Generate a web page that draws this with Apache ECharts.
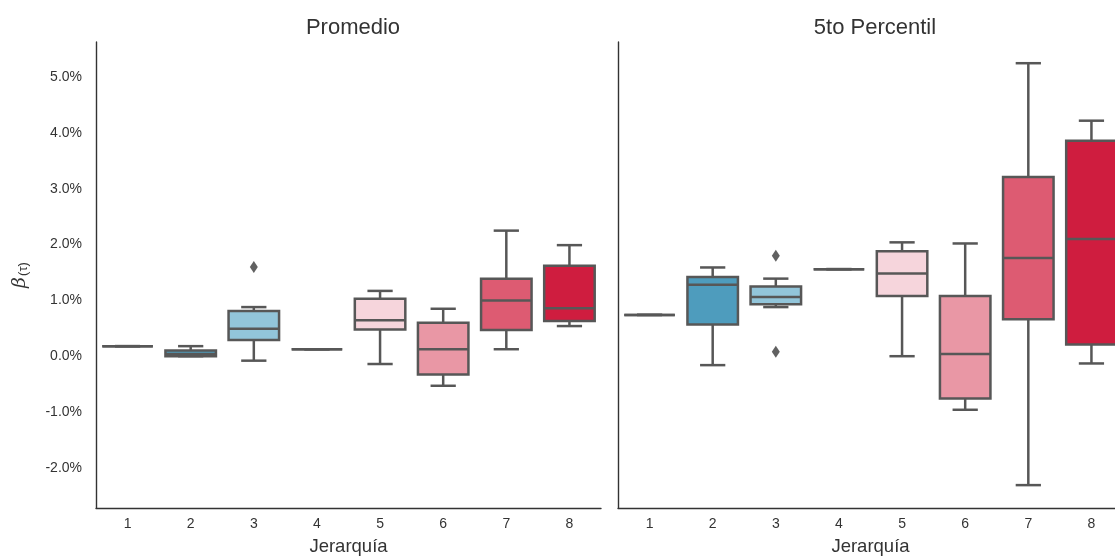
<!DOCTYPE html>
<html>
<head>
<meta charset="utf-8">
<script src="https://cdn.jsdelivr.net/npm/echarts@6/dist/echarts.min.js"></script>
<style>
html, body { margin: 0; padding: 0; background: #fff; }
#chart { width: 1115px; height: 556px; }
</style>
</head>
<body>
<div id="chart"></div>
<script>
var categorias = ['1', '2', '3', '4', '5', '6', '7', '8'];
// [min, q1, mediana, q3, max] en %
var promedio = [
    [0.18, 0.18, 0.18, 0.18, 0.18],
    [0.00, 0.00, 0.04, 0.10, 0.18],
    [-0.08, 0.29, 0.49, 0.81, 0.88],
    [0.125, 0.125, 0.125, 0.125, 0.125],
    [-0.14, 0.48, 0.645, 1.03, 1.17],
    [-0.53, -0.33, 0.125, 0.60, 0.85],
    [0.125, 0.47, 1.00, 1.39, 2.25],
    [0.54, 0.63, 0.86, 1.62, 1.99]
];
var percentil5 = [
    [0.74, 0.74, 0.74, 0.74, 0.74],
    [-0.16, 0.57, 1.28, 1.42, 1.59],
    [0.88, 0.93, 1.06, 1.25, 1.39],
    [1.56, 1.56, 1.56, 1.56, 1.56],
    [0.00, 1.08, 1.48, 1.88, 2.04],
    [-0.96, -0.76, 0.04, 1.08, 2.02],
    [-2.31, 0.66, 1.76, 3.21, 5.25],
    [-0.13, 0.21, 2.10, 3.86, 4.22]
];
// [categoria, valor]
var promedioAtipicos = [[2, 1.60]];
var percentil5Atipicos = [[2, 1.80], [2, 0.08]];
var yTicks = [-2, -1, 0, 1, 2, 3, 4, 5];

var colores = ['#2f6f93', '#4e9cbd', '#92c5da', '#eef1f3', '#f6d5dc', '#e997a5', '#dd5b72', '#cf1d3f'];
var gris = '#575757';

function filas(datos) {
    return datos.map(function (d, i) {
        return [i, d[0], d[1], d[2], d[3], d[4]];
    });
}

function cajas(params, api) {
    var i = api.value(0);
    var banda = api.size([1, 0])[0];
    var w = banda * 0.8;
    var cap = w / 2;
    var x = api.coord([i, 0])[0];
    var yMin = api.coord([i, api.value(1)])[1];
    var yQ1 = api.coord([i, api.value(2)])[1];
    var yMed = api.coord([i, api.value(3)])[1];
    var yQ3 = api.coord([i, api.value(4)])[1];
    var yMax = api.coord([i, api.value(5)])[1];
    var linea = { stroke: gris, lineWidth: 2.5, fill: null };
    return {
        type: 'group',
        children: [
            { type: 'line', shape: { x1: x, y1: yQ3, x2: x, y2: yMax }, style: linea },
            { type: 'line', shape: { x1: x, y1: yQ1, x2: x, y2: yMin }, style: linea },
            { type: 'line', shape: { x1: x - cap / 2, y1: yMax, x2: x + cap / 2, y2: yMax }, style: linea },
            { type: 'line', shape: { x1: x - cap / 2, y1: yMin, x2: x + cap / 2, y2: yMin }, style: linea },
            { type: 'rect', shape: { x: x - w / 2, y: yQ3, width: w, height: yQ1 - yQ3 },
              style: { fill: colores[i], stroke: gris, lineWidth: 2.5 } },
            { type: 'line', shape: { x1: x - w / 2, y1: yMed, x2: x + w / 2, y2: yMed }, style: linea }
        ]
    };
}

var lineaEje = { show: true, onZero: false, lineStyle: { color: '#333', width: 1.4 } };

function ejeX(idx) {
    return {
        type: 'category', gridIndex: idx, data: categorias,
        axisLine: lineaEje, axisTick: { show: false },
        axisLabel: { color: '#333', fontSize: 14, fontFamily: 'Liberation Sans', margin: 9 },
        splitLine: { show: false },
        name: 'Jerarquía', nameLocation: 'middle', nameGap: 29,
        nameTextStyle: { color: '#333', fontSize: 18.5, fontFamily: 'Liberation Sans' }
    };
}

var chart = echarts.init(document.getElementById('chart'));
var option = {
    animation: false,
    title: [
        { text: 'Promedio', left: 348, top: 12, textAlign: 'center',
          textStyle: { color: '#333', fontSize: 22, fontWeight: 'normal', fontFamily: 'Liberation Sans' } },
        { text: '5to Percentil', left: 870, top: 12, textAlign: 'center',
          textStyle: { color: '#333', fontSize: 22, fontWeight: 'normal', fontFamily: 'Liberation Sans' } }
    ],
    grid: [
        { left: 96, top: 42, width: 505, height: 466, outerBoundsMode: 'none', containLabel: false },
        { left: 618, top: 42, width: 505, height: 466, outerBoundsMode: 'none', containLabel: false }
    ],
    xAxis: [ejeX(0), ejeX(1)],
    yAxis: [
        {
            type: 'value', gridIndex: 0, min: -2.72, max: 5.63,
            axisLine: lineaEje, axisTick: { show: false }, splitLine: { show: false },
            axisLabel: {
                customValues: yTicks, color: '#333', fontSize: 14, fontFamily: 'Liberation Sans', margin: 14,
                formatter: function (v) { return v.toFixed(1) + '%'; }
            },
            name: '{b|β}{s|(τ)}', nameLocation: 'middle', nameRotate: 90, nameGap: 66,
            nameTextStyle: {
                rich: {
                    b: { fontSize: 19, fontStyle: 'italic', color: '#333', fontFamily: 'DejaVu Serif' },
                    s: { fontSize: 13, color: '#333', fontFamily: 'Liberation Sans', padding: [7, 0, 0, 1] }
                }
            }
        },
        {
            type: 'value', gridIndex: 1, min: -2.72, max: 5.63,
            axisLine: lineaEje, axisTick: { show: false }, splitLine: { show: false },
            axisLabel: { show: false }
        }
    ],
    series: [
        { type: 'custom', xAxisIndex: 0, yAxisIndex: 0, renderItem: cajas,
          encode: { x: 0, y: [1, 2, 3, 4, 5] }, data: filas(promedio) },
        { type: 'custom', xAxisIndex: 1, yAxisIndex: 1, renderItem: cajas,
          encode: { x: 0, y: [1, 2, 3, 4, 5] }, data: filas(percentil5) },
        { type: 'scatter', xAxisIndex: 0, yAxisIndex: 0, symbol: 'diamond', symbolSize: [8, 12],
          itemStyle: { color: '#3a3a3a' }, data: promedioAtipicos },
        { type: 'scatter', xAxisIndex: 1, yAxisIndex: 1, symbol: 'diamond', symbolSize: [8, 12],
          itemStyle: { color: '#3a3a3a' }, data: percentil5Atipicos }
    ]
};
chart.setOption(option);
</script>
</body>
</html>
